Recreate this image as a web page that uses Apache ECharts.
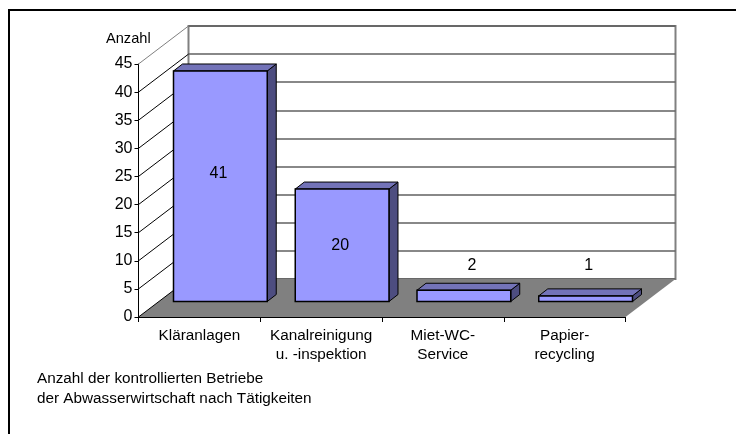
<!DOCTYPE html>
<html>
<head>
<meta charset="utf-8">
<style>html,body{margin:0;padding:0;background:#fff}#main{width:736px;height:434px}</style>
<script src="https://cdn.jsdelivr.net/npm/echarts@6/dist/echarts.min.js"></script>
</head>
<body>
<div id="main"></div>
<script>
var categories = ['Kläranlagen', 'Kanalreinigung\nu. -inspektion', 'Miet-WC-\nService', 'Papier-\nrecycling'];
var values = [41, 20, 2, 1];
var ticks = [0, 5, 10, 15, 20, 25, 30, 35, 40, 45];

var FONT = '"Liberation Sans", Arial, sans-serif';
// pseudo 3d offsets, pixels
var wallDx = 50, wallDy = -38;
var barDx = 21, barDy = -15.5;
var sideDx = 9, sideDy = -7;
var barShare = 0.77;
// data label placement, relative to the middle of the bar face (the small ones sit above the bar)
var labelNudge = [[-2, -13], [-2, 0], [8, -36], [3, -36]];

var chart = echarts.init(document.getElementById('main'), null, {renderer: 'canvas'});

function poly(points, fill, stroke, lw) {
    return {type: 'polygon', shape: {points: points}, style: {fill: fill, stroke: stroke || null, lineWidth: lw || 0}};
}

var option = {
    animation: false,
    backgroundColor: '#fff',
    textStyle: {fontFamily: FONT},
    graphic: [
        // the frame is cut off by the picture on the right and at the bottom
        {type: 'line', shape: {x1: 8, y1: 10, x2: 736, y2: 10}, style: {stroke: '#000', lineWidth: 2}},
        {type: 'line', shape: {x1: 9, y1: 9, x2: 9, y2: 434}, style: {stroke: '#000', lineWidth: 2}},
        {type: 'text', left: 106, top: 31, style: {text: 'Anzahl', fontFamily: FONT, fontSize: 14.6, fill: '#000'}},
        {type: 'text', left: 37, top: 369, style: {text: 'Anzahl der kontrollierten Betriebe\nder Abwasserwirtschaft nach Tätigkeiten', fontFamily: FONT, fontSize: 15.3, lineHeight: 20, fill: '#000'}}
    ],
    grid: [
        {left: 138.5, top: 64, width: 487, height: 253},
        {left: 188.5, top: 26, width: 487, height: 253, show: true, borderColor: '#808080', borderWidth: 2, backgroundColor: 'transparent'}
    ],
    xAxis: [
        {
            type: 'category', data: categories, gridIndex: 0,
            axisLine: {lineStyle: {color: '#000'}},
            axisTick: {show: true, alignWithLabel: false, length: 5, lineStyle: {color: '#000'}},
            axisLabel: {color: '#000', fontSize: 15.3, lineHeight: 19, margin: 9, interval: 0, fontFamily: FONT},
            splitLine: {show: false}
        },
        {type: 'category', data: categories, gridIndex: 1, show: false}
    ],
    yAxis: [
        {
            type: 'value', min: 0, max: 45, interval: 5, gridIndex: 0,
            axisLine: {show: true, lineStyle: {color: '#000'}},
            axisTick: {show: true, length: 4, lineStyle: {color: '#000'}},
            axisLabel: {color: '#000', fontSize: 16, margin: 6, fontFamily: FONT, padding: [2, 0, 0, 0]},
            splitLine: {show: false}
        },
        {
            type: 'value', min: 0, max: 45, interval: 5, gridIndex: 1,
            axisLine: {show: false}, axisTick: {show: false}, axisLabel: {show: false},
            splitLine: {show: true, lineStyle: {color: '#606060', width: 1.5}}
        }
    ],
    series: [
        {
            // back wall gridlines only come from the second grid, this one is a carrier
            type: 'line', xAxisIndex: 1, yAxisIndex: 1, data: [], silent: true
        },
        {
            // floor
            type: 'custom', xAxisIndex: 0, yAxisIndex: 0, z: 1, silent: true,
            data: [0],
            renderItem: function (params, api) {
                var a = api.coord([0, 0]);
                var size = api.size([1, 0]);
                var x0 = a[0] - size[0] / 2, y0 = a[1], x1 = x0 + categories.length * size[0];
                return poly([[x0, y0], [x1, y0], [x1 + wallDx, y0 + wallDy], [x0 + wallDx, y0 + wallDy]], '#808080');
            }
        },
        {
            // side wall lines
            type: 'custom', xAxisIndex: 0, yAxisIndex: 0, z: 2, silent: true,
            data: ticks,
            renderItem: function (params, api) {
                var y = api.coord([0, api.value(0)])[1];
                var x0 = api.coord([0, 0])[0] - api.size([1, 0])[0] / 2;
                var last = api.value(0) === 45;
                return {
                    type: 'line',
                    shape: {x1: x0, y1: y, x2: x0 + wallDx, y2: y + wallDy},
                    style: {stroke: last ? '#808080' : '#000', lineWidth: 1}
                };
            },
            encode: {y: 0}
        },
        {
            // bars
            type: 'custom', xAxisIndex: 0, yAxisIndex: 0, z: 3, silent: true,
            data: values.map(function (v, i) { return [i, v]; }),
            encode: {x: 0, y: 1},
            renderItem: function (params, api) {
                var i = api.value(0), v = api.value(1);
                var base = api.coord([i, 0]), top = api.coord([i, v]);
                var w = api.size([1, 0])[0] * barShare;
                var x0 = base[0] - w / 2 + barDx, x1 = x0 + w;
                var yb = base[1] + barDy, yt = top[1] + barDy;
                var sx = sideDx, sy = sideDy;
                var nudge = labelNudge[i];
                var labelY = (v > 10 ? (yb + yt) / 2 : yb) + nudge[1];
                return {
                    type: 'group',
                    children: [
                        poly([[x1, yb], [x1 + sx, yb + sy], [x1 + sx, yt + sy], [x1, yt]], '#4d4d80', '#000', 1),
                        poly([[x0, yt], [x1, yt], [x1 + sx, yt + sy], [x0 + sx, yt + sy]], '#7373b8', '#000', 1),
                        {type: 'rect', shape: {x: x0, y: yt, width: w, height: yb - yt}, style: {fill: '#9999ff', stroke: '#000', lineWidth: 1.5}},
                        {type: 'text', style: {text: String(v), x: (x0 + x1) / 2 + nudge[0], y: labelY, align: 'center', verticalAlign: 'middle', fontFamily: FONT, fontSize: 16, fill: '#000'}}
                    ]
                };
            }
        }
    ]
};
chart.setOption(option);
</script>
</body>
</html>
